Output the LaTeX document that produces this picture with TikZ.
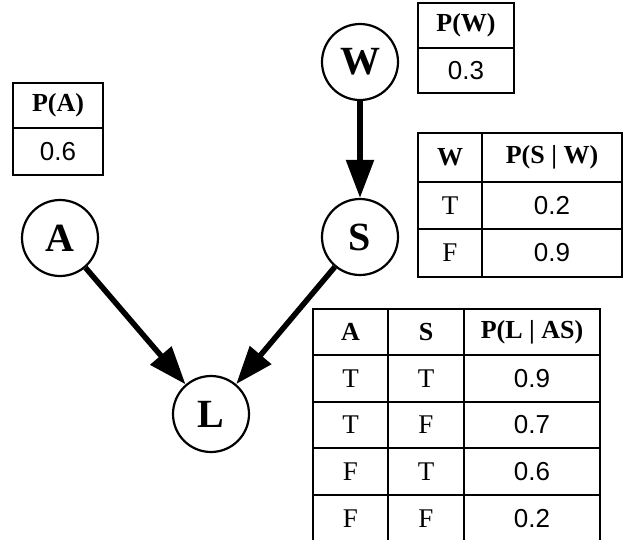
\documentclass[tikz,border=0pt]{standalone}
\usepackage{fontspec}
\setmainfont{Liberation Serif}
\newfontfamily\numfont{Liberation Sans}
\usetikzlibrary{arrows.meta}
\begin{document}
\begin{tikzpicture}[x=1pt,y=-1pt,
  var/.style={draw, circle, line width=2.2pt, minimum size=76pt, inner sep=0pt, font=\fontsize{40}{40}\selectfont\bfseries},
  edge/.style={line width=5.5pt, -{Triangle[length=38pt,width=27pt]}},
  cell/.style={draw, line width=1.3pt, inner sep=0pt},
  hd/.style={cell, font=\fontsize{26}{26}\selectfont\bfseries},
  tf/.style={cell, font=\fontsize{27}{27}\selectfont},
  num/.style={cell, font=\fontsize{26}{26}\selectfont\numfont}]
\useasboundingbox[fill=white] (0,0) rectangle (626,539);

% variables
\node[var] (W) at (360,62) {W};
\node[var] (S) at (360,237) {S};
\node[var] (A) at (60,238) {A};
\node[var] (L) at (211,414) {L};

\draw[edge] (W) -- (S);
\draw[edge] (A) -- (L);
\draw[edge] (S) -- (L);

% P(W)
\node[hd, minimum width=96pt, minimum height=45pt] (pw-h) at (466,25.5) {P(W)};
\node[num, minimum width=96pt, minimum height=45pt] (pw-v) at (466,70.5) {0.3};

% P(A)
\node[hd, minimum width=90pt, minimum height=45pt] (pa-h) at (58,105.5) {P(A)};
\node[num, minimum width=90pt, minimum height=47pt] (pa-v) at (58,151.5) {0.6};

% P(S|W)
\node[hd, minimum width=64pt, minimum height=49pt] (ps-h1) at (450,157.5) {W};
\node[hd, minimum width=140pt, minimum height=49pt] (ps-h2) at (552,157.5) {P(S | W)};
\node[tf, minimum width=64pt, minimum height=47pt] (ps-11) at (450,205.5) {T};
\node[num, minimum width=140pt, minimum height=47pt] (ps-12) at (552,205.5) {0.2};
\node[tf, minimum width=64pt, minimum height=48pt] (ps-21) at (450,253) {F};
\node[num, minimum width=140pt, minimum height=48pt] (ps-22) at (552,253) {0.9};

% P(L|AS)
\node[hd, minimum width=75pt, minimum height=46pt] (pl-h1) at (350.5,332) {A};
\node[hd, minimum width=76pt, minimum height=46pt] (pl-h2) at (426,332) {S};
\node[hd, minimum width=136pt, minimum height=46pt] (pl-h3) at (532,332) {P(L | AS)};

\node[tf, minimum width=75pt, minimum height=47pt] (pl-11) at (350.5,378.5) {T};
\node[tf, minimum width=76pt, minimum height=47pt] (pl-12) at (426,378.5) {T};
\node[num, minimum width=136pt, minimum height=47pt] (pl-13) at (532,378.5) {0.9};

\node[tf, minimum width=75pt, minimum height=46pt] (pl-21) at (350.5,425) {T};
\node[tf, minimum width=76pt, minimum height=46pt] (pl-22) at (426,425) {F};
\node[num, minimum width=136pt, minimum height=46pt] (pl-23) at (532,425) {0.7};

\node[tf, minimum width=75pt, minimum height=47pt] (pl-31) at (350.5,471.5) {F};
\node[tf, minimum width=76pt, minimum height=47pt] (pl-32) at (426,471.5) {T};
\node[num, minimum width=136pt, minimum height=47pt] (pl-33) at (532,471.5) {0.6};

\node[tf, minimum width=75pt, minimum height=48pt] (pl-41) at (350.5,519) {F};
\node[tf, minimum width=76pt, minimum height=48pt] (pl-42) at (426,519) {F};
\node[num, minimum width=136pt, minimum height=48pt] (pl-43) at (532,519) {0.2};
\end{tikzpicture}
\end{document}
